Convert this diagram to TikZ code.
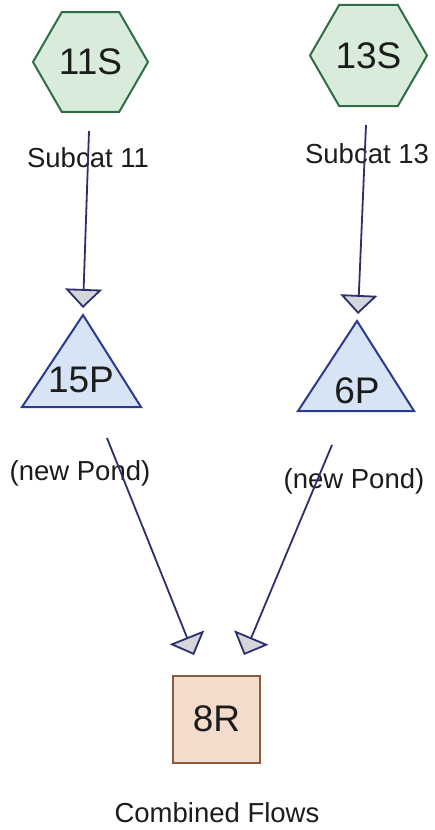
\documentclass[tikz,border=0pt]{standalone}
\usepackage{fontspec}
\setmainfont{Liberation Sans}
\usetikzlibrary{shapes.geometric,arrows.meta}
\definecolor{hexfill}{HTML}{D9ECDC}
\definecolor{hexline}{HTML}{2F6E45}
\definecolor{trifill}{HTML}{D6E4F5}
\definecolor{triline}{HTML}{2B3990}
\definecolor{boxfill}{HTML}{F3DCCB}
\definecolor{boxline}{HTML}{8B5A3C}
\definecolor{flowline}{HTML}{2B2F6E}
\definecolor{headfill}{HTML}{D4D6DA}
\definecolor{txt}{HTML}{1C1C1C}
\tikzset{
  bigtxt/.style={font=\fontsize{37}{37}\selectfont, text=txt},
  lbltxt/.style={font=\fontsize{27.5}{28}\selectfont, text=txt, inner sep=0pt},
  subcat/.style={regular polygon, regular polygon sides=6, draw=hexline, fill=hexfill, line width=2pt, inner sep=0pt, bigtxt},
  pond/.style={draw=triline, fill=trifill, line width=2pt, line join=miter},
  reach/.style={rectangle, draw=boxline, fill=boxfill, line width=2pt, minimum size=87pt, inner sep=0pt, bigtxt},
  flow/.style={draw=flowline, line width=1.8pt, -{Triangle[width=37pt,length=19pt,fill=headfill,line width=1.8pt]}}
}
\begin{document}
\begin{tikzpicture}[x=1pt,y=-1pt]
\useasboundingbox (0,0) rectangle (434,830);
% subcatchments
\node[subcat, minimum size=115pt] (h11) at (90.5,62) {11S};
\node[subcat, minimum size=117pt] (h13) at (368.5,55.5) {13S};
\node[lbltxt] (l11) at (88,158) {Subcat 11};
\node[lbltxt] (l13) at (367,154) {Subcat 13};
% ponds
\coordinate (p15a) at (83,315);
\coordinate (p15l) at (22,407);
\coordinate (p15r) at (141,407);
\draw[pond] (p15a) -- (p15l) -- (p15r) -- cycle;
\node[bigtxt, inner sep=0pt] (p15) at (81,380) {15P};
\coordinate (p6a) at (357,321);
\coordinate (p6l) at (298,411);
\coordinate (p6r) at (414,411);
\draw[pond] (p6a) -- (p6l) -- (p6r) -- cycle;
\node[bigtxt, inner sep=0pt] (p6) at (357,391) {6P};
\node[lbltxt] (np1) at (80,473) {(new Pond)};
\node[lbltxt] (np2) at (354,481) {(new Pond)};
% reach
\node[reach] (r8) at (216.5,719) {8R};
\node[lbltxt] (cf) at (217,813) {Combined Flows};
% connectors
\coordinate (s11) at (89,131);
\coordinate (t11) at (83,308);
\coordinate (s13) at (366,125);
\coordinate (t13) at (358,314);
\coordinate (s15) at (107,438);
\coordinate (t15) at (194,655);
\coordinate (s6) at (332,445);
\coordinate (t6) at (244,655);
\draw[flow] (s11) -- (t11);
\draw[flow] (s13) -- (t13);
\draw[flow] (s15) -- (t15);
\draw[flow] (s6) -- (t6);
\end{tikzpicture}
\end{document}
